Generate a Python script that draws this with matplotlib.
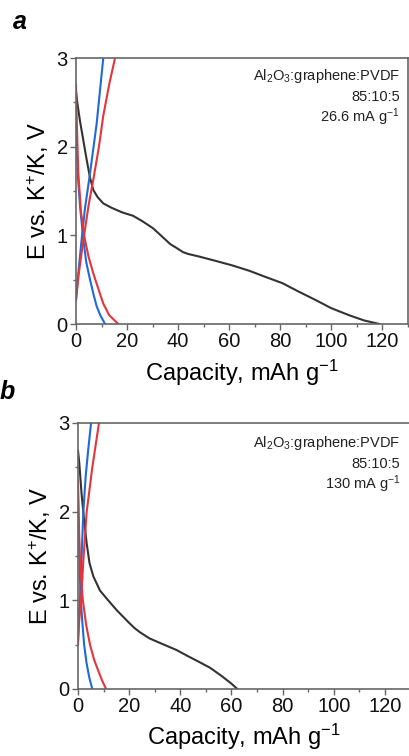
import matplotlib
matplotlib.use("Agg")
import matplotlib.pyplot as plt
from matplotlib.ticker import MultipleLocator

plt.rcParams['font.family'] = ['Liberation Sans', 'DejaVu Sans']
plt.rcParams['mathtext.fontset'] = 'custom'
plt.rcParams['mathtext.rm'] = 'Liberation Sans'
plt.rcParams['mathtext.it'] = 'Liberation Sans:italic'
plt.rcParams['mathtext.bf'] = 'Liberation Sans:bold'

# ---------------- data: panel a (26.6 mA g-1) ----------------
a_black_x = [0, 0.5, 1.5, 3, 4.2, 5.5, 6.8, 8.5, 10.7, 14, 18, 22.4, 26, 30.2, 34, 37, 39.3,
             42, 44, 48.4, 55, 61.4, 68, 74.4, 81, 87, 94, 100, 107, 113, 119]
a_black_y = [2.62, 2.5, 2.3, 2.05, 1.85, 1.65, 1.51, 1.43, 1.36, 1.31, 1.26, 1.22, 1.16, 1.08,
             0.98, 0.90, 0.86, 0.81, 0.79, 0.76, 0.71, 0.66, 0.60, 0.53, 0.46, 0.37, 0.27,
             0.18, 0.10, 0.04, 0.0]
a_blue_dis_x = [0, 0.27, 0.8, 1.6, 2.9, 4, 5.5, 7, 8.1, 9.5, 11.4]
a_blue_dis_y = [2.1, 2.0, 1.65, 1.32, 0.95, 0.7, 0.5, 0.32, 0.2, 0.1, 0.0]
a_red_dis_x = [0, 0.3, 0.9, 2, 3.5, 5, 6.8, 8.5, 10.7, 13, 16.6]
a_red_dis_y = [2.7, 2.3, 1.7, 1.25, 0.95, 0.75, 0.57, 0.42, 0.23, 0.1, 0.0]
a_blue_ch_x = [0, 1, 2.2, 3.5, 5.5, 8.1, 10.7]
a_blue_ch_y = [0.27, 0.6, 0.95, 1.3, 1.7, 2.26, 3.0]
a_red_ch_x = [0, 1, 2.9, 5, 6.8, 9, 10.7, 13, 15.3]
a_red_ch_y = [0.27, 0.55, 0.95, 1.35, 1.63, 2.0, 2.35, 2.7, 3.0]

# ---------------- data: panel b (130 mA g-1) ----------------
b_black_x = [0, 0.5, 1.4, 2.4, 3.4, 4.5, 6, 8.6, 11.5, 15.1, 19.5, 22, 24.2, 28, 32, 38.5, 43,
             47.7, 51.6, 56, 60, 62.3]
b_black_y = [2.69, 2.55, 2.2, 1.9, 1.64, 1.42, 1.27, 1.11, 1.01, 0.89, 0.76, 0.69, 0.64, 0.57,
             0.52, 0.44, 0.37, 0.30, 0.24, 0.15, 0.06, 0.0]
b_blue_dis_x = [0, 0.3, 0.6, 1.1, 1.7, 2.4, 3.3, 4.4, 5.6]
b_blue_dis_y = [2.2, 1.8, 1.4, 1.0, 0.75, 0.5, 0.3, 0.13, 0.0]
b_red_dis_x = [0, 0.3, 0.8, 1.9, 3.2, 4.7, 6.3, 8, 9.5, 11]
b_red_dis_y = [2.35, 1.9, 1.4, 1.0, 0.72, 0.5, 0.33, 0.2, 0.09, 0.0]
b_blue_ch_x = [0, 0.3, 0.8, 1.4, 2.1, 3, 4, 5.1]
b_blue_ch_y = [0.55, 0.8, 1.0, 1.5, 2.0, 2.4, 2.7, 3.0]
b_red_ch_x = [0, 0.4, 1.2, 2.2, 3.4, 4.5, 5.6, 6.9, 8.2]
b_red_ch_y = [0.5, 0.75, 1.0, 1.5, 2.0, 2.25, 2.5, 2.75, 3.0]

xticks = [0, 20, 40, 60, 80, 100, 120]
yticks = [0, 1, 2, 3]
annot_a = ["Al$_2$O$_3$:graphene:PVDF", "85:10:5", "26.6 mA g$^{-1}$"]
annot_b = ["Al$_2$O$_3$:graphene:PVDF", "85:10:5", "130 mA g$^{-1}$"]

BLUE = "#1f6ad6"
RED = "#e5343c"
BLACK = "#333333"
SPINE = "#666666"

W, H = 409, 756
fig = plt.figure(figsize=(W / 100, H / 100), dpi=100)


def px_axes(left, right, top, bottom):
    return fig.add_axes([left / W, 1 - bottom / H, (right - left) / W, (bottom - top) / H])


def style(ax, annot, tx, ty, xpad):
    ax.set_xlim(0, 130)
    ax.set_ylim(0, 3)
    ax.set_xticks(xticks)
    ax.set_yticks(yticks)
    ax.xaxis.set_minor_locator(MultipleLocator(10))
    ax.yaxis.set_minor_locator(MultipleLocator(0.5))
    ax.tick_params(which='major', direction='out', length=4, width=1, color=SPINE,
                   labelsize=14.5, pad=2, labelcolor='#111111')
    ax.tick_params(which='minor', direction='out', length=2.5, width=1, color=SPINE)
    for s in ax.spines.values():
        s.set_color(SPINE)
        s.set_linewidth(1.2)
    ax.set_xlabel("Capacity, mAh g$^{-1}$", fontsize=17, labelpad=xpad)
    ax.set_ylabel("E vs. K$^{+}$/K, V", fontsize=17, labelpad=4)
    for i, t in enumerate(annot):
        ax.text(tx, ty - i * 0.078, t, transform=ax.transAxes, ha='right', va='center',
                fontsize=10.5, color='#222222')


lw = 1.5
ax1 = px_axes(76, 407.5, 58, 324)
ax1.plot(a_black_x, a_black_y, color=BLACK, lw=lw)
ax1.plot(a_blue_dis_x, a_blue_dis_y, color=BLUE, lw=lw)
ax1.plot(a_blue_ch_x, a_blue_ch_y, color=BLUE, lw=lw)
ax1.plot(a_red_dis_x, a_red_dis_y, color=RED, lw=lw)
ax1.plot(a_red_ch_x, a_red_ch_y, color=RED, lw=lw)
style(ax1, annot_a, 0.978, 0.932, 5)

ax2 = px_axes(78, 78 + 130 * 2.558, 423, 689)
ax2.plot(b_black_x, b_black_y, color=BLACK, lw=lw)
ax2.plot(b_blue_dis_x, b_blue_dis_y, color=BLUE, lw=lw)
ax2.plot(b_blue_ch_x, b_blue_ch_y, color=BLUE, lw=lw)
ax2.plot(b_red_dis_x, b_red_dis_y, color=RED, lw=lw)
ax2.plot(b_red_ch_x, b_red_ch_y, color=RED, lw=lw)
style(ax2, annot_b, 0.97, 0.925, 4)

fig.text(20 / W, 1 - 22 / H, "a", fontsize=18, fontweight='bold', fontstyle='italic',
         ha='center', va='center')
fig.text(7 / W, 1 - 392 / H, "b", fontsize=18, fontweight='bold', fontstyle='italic',
         ha='center', va='center')

fig.savefig("out.png", dpi=100)
